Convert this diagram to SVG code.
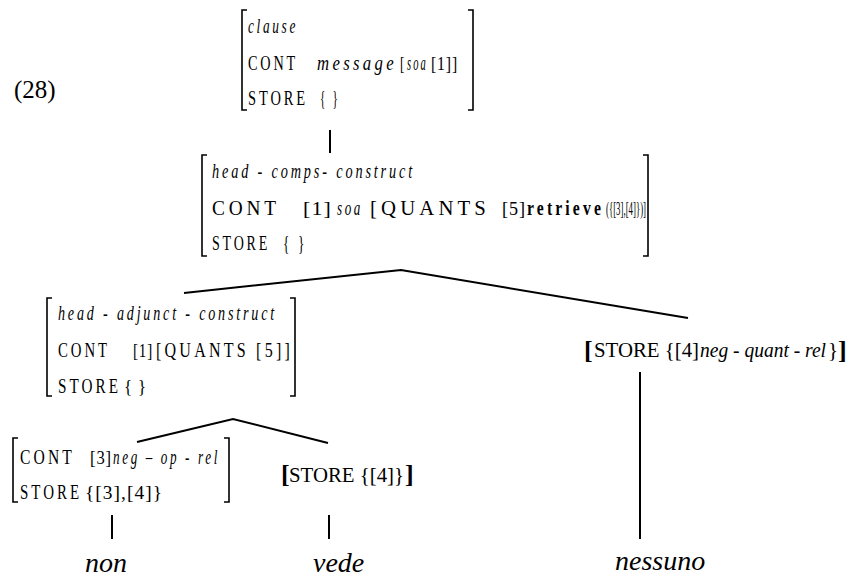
<svg xmlns="http://www.w3.org/2000/svg" width="849" height="577" viewBox="0 0 849 577" font-family="Liberation Serif, serif">
<style>
text{font-family:Liberation Serif, serif;fill:#000}
.sp{font-size:20px;letter-spacing:4px}
.sq{font-size:19px;letter-spacing:1px}
.it{font-style:italic}
.b{font-weight:bold}
.pl{font-size:21px}
.br{font-size:26px;font-weight:bold}
.w{font-size:28px;font-style:italic}
.brk{fill:none;stroke:#000;stroke-width:1.6}
.con{fill:none;stroke:#000;stroke-width:2}
</style>
<text x="14" y="98" font-size="25">(28)</text>
<g id="connectors">
<path class="con" d="M330 130 V153"/>
<path class="con" d="M184 293 L401 270 L688 318"/>
<path class="con" d="M137 442 L233 419 L328 443"/>
<path class="con" d="M112 515 V539"/>
<path class="con" d="M329 515 V539"/>
<path class="con" d="M640 372 V539"/>
</g>
<g id="n-clause">
<path class="brk" d="M247 10 H242 V110 H247"/>
<path class="brk" d="M468 10 H473 V110 H468"/>
<text class="sp it" x="248" y="33" textLength="50" lengthAdjust="spacingAndGlyphs">clause</text>
<text class="sp" x="248" y="70" textLength="50" lengthAdjust="spacingAndGlyphs">CONT</text>
<text class="sp it" x="317" y="70" textLength="80" lengthAdjust="spacingAndGlyphs">message</text>
<text class="sq" x="400" y="70" textLength="5" lengthAdjust="spacingAndGlyphs">[</text>
<text class="sp it" x="407" y="70" textLength="21" lengthAdjust="spacingAndGlyphs">soa</text>
<text class="sq" x="431" y="70" textLength="27" lengthAdjust="spacingAndGlyphs">[1]]</text>
<text class="sp" x="248" y="105" textLength="60" lengthAdjust="spacingAndGlyphs">STORE</text>
<text class="sp" x="320" y="105" textLength="20" lengthAdjust="spacingAndGlyphs">{ }</text>
</g>
<g id="n-head-comps">
<path class="brk" d="M207 155 H202 V256 H207"/>
<path class="brk" d="M643 155 H648 V256 H643"/>
<text class="sp it" x="212" y="178" textLength="203" lengthAdjust="spacingAndGlyphs">head - comps- construct</text>
<text class="sp" x="212" y="215" textLength="68" lengthAdjust="spacingAndGlyphs">CONT</text>
<text class="sq" x="303" y="215" textLength="29" lengthAdjust="spacingAndGlyphs">[1]</text>
<text class="sp it" x="337" y="215" textLength="26" lengthAdjust="spacingAndGlyphs">soa</text>
<text class="sp" x="370" y="215" textLength="120" lengthAdjust="spacingAndGlyphs">[QUANTS</text>
<text class="sq" x="502" y="215" textLength="24" lengthAdjust="spacingAndGlyphs">[5]</text>
<text class="sp b" x="527" y="215" textLength="77" lengthAdjust="spacingAndGlyphs">retrieve</text>
<text class="sq" x="606" y="215" textLength="40" lengthAdjust="spacingAndGlyphs" style="letter-spacing:0">({[3],[4]})]</text>
<text class="sp" x="212" y="250" textLength="58" lengthAdjust="spacingAndGlyphs">STORE</text>
<text class="sp" x="283" y="250" textLength="24" lengthAdjust="spacingAndGlyphs">{ }</text>
</g>
<g id="n-head-adjunct">
<path class="brk" d="M52 298 H47 V396 H52"/>
<path class="brk" d="M290 298 H295 V396 H290"/>
<text class="sp it" x="58" y="320" textLength="219" lengthAdjust="spacingAndGlyphs">head - adjunct - construct</text>
<text class="sp" x="58" y="357" textLength="52" lengthAdjust="spacingAndGlyphs">CONT</text>
<text class="sq" x="133" y="357" textLength="20" lengthAdjust="spacingAndGlyphs">[1]</text>
<text class="sp" x="156" y="357" textLength="137" lengthAdjust="spacingAndGlyphs">[QUANTS [5]]</text>
<text class="sp" x="58" y="393" textLength="63" lengthAdjust="spacingAndGlyphs">STORE</text>
<text class="sq" x="124" y="393" textLength="23" lengthAdjust="spacingAndGlyphs">{ }</text>
</g>
<g id="n-non">
<path class="brk" d="M18 438 H13 V502 H18"/>
<path class="brk" d="M224 438 H229 V502 H224"/>
<text class="sp" x="20" y="464" textLength="55" lengthAdjust="spacingAndGlyphs">CONT</text>
<text class="sq" x="90" y="464" textLength="22" lengthAdjust="spacingAndGlyphs">[3]</text>
<text class="sp it" x="113" y="464" textLength="107" lengthAdjust="spacingAndGlyphs">neg – op - rel</text>
<text class="sp" x="20" y="499" textLength="62" lengthAdjust="spacingAndGlyphs">STORE</text>
<text class="sq" x="85" y="499" textLength="78" lengthAdjust="spacingAndGlyphs">{[3],[4]}</text>
<text class="w" x="85" y="572">non</text>
</g>
<g id="n-vede">
<text class="br" x="281" y="483">[</text>
<text class="pl" x="289" y="482" textLength="115" lengthAdjust="spacingAndGlyphs">STORE {[4]}</text>
<text class="br" x="405" y="483">]</text>
<text class="w" x="313" y="572">vede</text>
</g>
<g id="n-nessuno">
<text class="br" x="584" y="359">[</text>
<text class="pl" x="594" y="357" textLength="105" lengthAdjust="spacingAndGlyphs">STORE {[4]</text>
<text class="pl it" x="700" y="357" textLength="126" lengthAdjust="spacingAndGlyphs">neg - quant - rel</text>
<text class="pl" x="828" y="357">}</text>
<text class="br" x="838" y="359">]</text>
<text class="w" x="615" y="570">nessuno</text>
</g>
</svg>
